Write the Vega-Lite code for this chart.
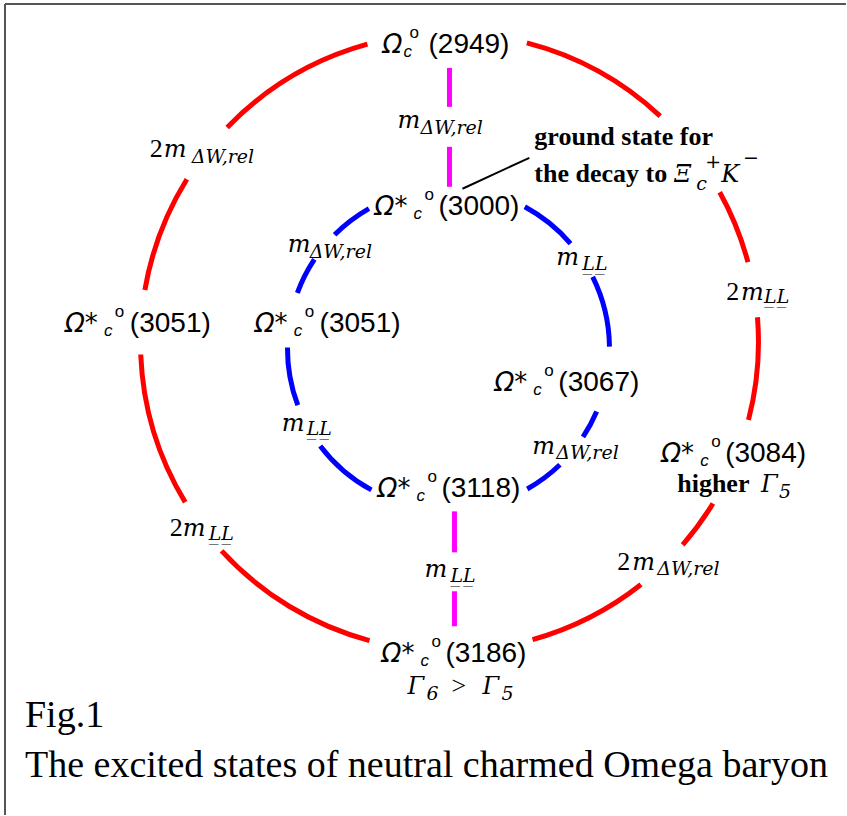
{
  "$schema": "https://vega.github.io/schema/vega-lite/v6.json",
  "width": 847,
  "height": 816,
  "autosize": {"type": "fit", "contains": "padding"},
  "padding": 0,
  "background": "white",
  "config": {"view": {"stroke": null}},
  "datasets": {
    "arcs": [
      {"ring": "outer", "x": 450, "y": 342.5, "r": 309, "a1": 14.5, "a2": 43},
      {"ring": "outer", "x": 450, "y": 342.5, "r": 309, "a1": 61, "a2": 75},
      {"ring": "outer", "x": 450, "y": 342.5, "r": 309, "a1": 85.4, "a2": 104.6},
      {"ring": "outer", "x": 450, "y": 342.5, "r": 309, "a1": 121.5, "a2": 131},
      {"ring": "outer", "x": 450, "y": 342.5, "r": 309, "a1": 141.7, "a2": 164.4},
      {"ring": "outer", "x": 450, "y": 342.5, "r": 309, "a1": 195, "a2": 227.5},
      {"ring": "outer", "x": 450, "y": 342.5, "r": 309, "a1": 238.8, "a2": 267.7},
      {"ring": "outer", "x": 450, "y": 342.5, "r": 309, "a1": 279.7, "a2": 301.8},
      {"ring": "outer", "x": 450, "y": 342.5, "r": 309, "a1": 314, "a2": 344.6},
      {"ring": "inner", "x": 449, "y": 349, "r": 161, "a1": 28.3, "a2": 49.3},
      {"ring": "inner", "x": 449, "y": 349, "r": 161, "a1": 63.6, "a2": 89.3},
      {"ring": "inner", "x": 449, "y": 349, "r": 161, "a1": 113, "a2": 123.3},
      {"ring": "inner", "x": 449, "y": 349, "r": 161, "a1": 136.2, "a2": 150.7},
      {"ring": "inner", "x": 449, "y": 349, "r": 161, "a1": 208.6, "a2": 232.8},
      {"ring": "inner", "x": 449, "y": 349, "r": 161, "a1": 249.4, "a2": 270.4},
      {"ring": "inner", "x": 449, "y": 349, "r": 161, "a1": 290.2, "a2": 303.6},
      {"ring": "inner", "x": 449, "y": 349, "r": 161, "a1": 315, "a2": 330.4}
    ],
    "links": [
      {"ring": "link", "x": 450, "y": 68, "y2": 107},
      {"ring": "link", "x": 450, "y": 147, "y2": 187},
      {"ring": "link", "x": 455, "y": 512, "y2": 553},
      {"ring": "link", "x": 455, "y": 592, "y2": 627}
    ],
    "leader": [{"x": 463, "y": 189, "x2": 530, "y2": 158}],
    "border": [
      {"x": 5, "y": 4, "x2": 847, "y2": 4},
      {"x": 5, "y": 4, "x2": 5, "y2": 816}
    ],
    "sym": [
      {"x": 383, "y": 53, "t": "Ω"},
      {"x": 375, "y": 215, "t": "Ω*"},
      {"x": 65, "y": 332, "t": "Ω*"},
      {"x": 255, "y": 332, "t": "Ω*"},
      {"x": 495, "y": 391, "t": "Ω*"},
      {"x": 662, "y": 463, "t": "Ω*"},
      {"x": 378, "y": 498, "t": "Ω*"},
      {"x": 382, "y": 663, "t": "Ω*"}
    ],
    "symsub": [
      {"x": 404, "y": 57, "t": "c"},
      {"x": 414, "y": 219, "t": "c"},
      {"x": 104, "y": 336, "t": "c"},
      {"x": 294, "y": 336, "t": "c"},
      {"x": 534, "y": 395, "t": "c"},
      {"x": 701, "y": 467, "t": "c"},
      {"x": 417, "y": 502, "t": "c"},
      {"x": 421, "y": 667, "t": "c"}
    ],
    "symsup": [
      {"x": 410, "y": 38, "t": "o"},
      {"x": 425, "y": 200, "t": "o"},
      {"x": 115, "y": 317, "t": "o"},
      {"x": 305, "y": 317, "t": "o"},
      {"x": 545, "y": 376, "t": "o"},
      {"x": 712, "y": 448, "t": "o"},
      {"x": 428, "y": 483, "t": "o"},
      {"x": 432, "y": 648, "t": "o"}
    ],
    "num": [
      {"x": 429, "y": 53, "t": "(2949)"},
      {"x": 439, "y": 215, "t": "(3000)"},
      {"x": 130, "y": 332, "t": "(3051)"},
      {"x": 320, "y": 332, "t": "(3051)"},
      {"x": 559, "y": 391, "t": "(3067)"},
      {"x": 726, "y": 463, "t": "(3084)"},
      {"x": 442, "y": 498, "t": "(3118)"},
      {"x": 446, "y": 663, "t": "(3186)"}
    ],
    "mvar": [
      {"x": 398, "y": 128, "t": "m"},
      {"x": 164, "y": 157, "t": "m"},
      {"x": 288, "y": 252, "t": "m"},
      {"x": 557, "y": 265, "t": "m"},
      {"x": 742, "y": 300, "t": "m"},
      {"x": 533, "y": 455, "t": "m"},
      {"x": 282, "y": 432, "t": "m"},
      {"x": 183, "y": 537, "t": "m"},
      {"x": 633, "y": 571, "t": "m"},
      {"x": 425, "y": 578, "t": "m"},
      {"x": 675, "y": 182, "t": "Ξ"},
      {"x": 722, "y": 182, "t": "K"},
      {"x": 762, "y": 493, "t": "Γ"},
      {"x": 408, "y": 695, "t": "Γ"},
      {"x": 483, "y": 695, "t": "Γ"}
    ],
    "msub": [
      {"x": 421, "y": 134, "t": "ΔW,rel"},
      {"x": 192, "y": 163, "t": "ΔW,rel"},
      {"x": 310, "y": 258, "t": "ΔW,rel"},
      {"x": 557, "y": 460, "t": "ΔW,rel"},
      {"x": 658, "y": 576, "t": "ΔW,rel"},
      {"x": 583, "y": 270, "t": "L̲L̲"},
      {"x": 765, "y": 303, "t": "L̲L̲"},
      {"x": 307, "y": 436, "t": "L̲L̲"},
      {"x": 209, "y": 541, "t": "L̲L̲"},
      {"x": 451, "y": 583, "t": "L̲L̲"},
      {"x": 697, "y": 190, "t": "c"},
      {"x": 780, "y": 499, "t": "5"},
      {"x": 427, "y": 701, "t": "6"},
      {"x": 502, "y": 701, "t": "5"}
    ],
    "msup": [
      {"x": 706, "y": 168, "t": "+"},
      {"x": 744, "y": 164, "t": "−"}
    ],
    "serif": [
      {"x": 150, "y": 157, "t": "2"},
      {"x": 727, "y": 300, "t": "2"},
      {"x": 170, "y": 537, "t": "2"},
      {"x": 618, "y": 571, "t": "2"},
      {"x": 452, "y": 695, "t": ">"}
    ],
    "bold": [
      {"x": 535, "y": 145, "t": "ground state for"},
      {"x": 535, "y": 182, "t": "the decay to"},
      {"x": 678, "y": 493, "t": "higher"}
    ],
    "caption": [
      {"x": 25, "y": 728, "t": "Fig.1"},
      {"x": 25, "y": 778, "t": "The excited states of neutral charmed Omega baryon"}
    ]
  },
  "encoding": {
    "x": {"field": "x", "type": "quantitative", "scale": {"domain": [0, 847], "nice": false, "zero": false}, "axis": null},
    "y": {"field": "y", "type": "quantitative", "scale": {"domain": [0, 816], "nice": false, "zero": false, "reverse": true}, "axis": null}
  },
  "layer": [
    {
      "data": {"name": "border"},
      "mark": {"type": "rule", "strokeWidth": 2, "color": "#555555"},
      "encoding": {"x2": {"field": "x2"}, "y2": {"field": "y2"}}
    },
    {
      "data": {"name": "arcs"},
      "mark": {"type": "arc", "filled": false, "strokeWidth": 5},
      "encoding": {
        "theta": {"field": "a1", "type": "quantitative", "stack": null, "scale": {"domain": [0, 360], "range": [0, 6.283185307179586]}},
        "theta2": {"field": "a2"},
        "radius": {"field": "r", "type": "quantitative", "scale": {"type": "linear", "domain": [0, 400], "range": [0, 400], "zero": true}},
        "radius2": {"field": "r"},
        "color": {"field": "ring", "type": "nominal", "scale": {"domain": ["outer", "inner", "link"], "range": ["#ff0000", "#0000ff", "#ff00ff"]}, "legend": null}
      }
    },
    {
      "data": {"name": "links"},
      "mark": {"type": "rule", "strokeWidth": 5},
      "encoding": {
        "y2": {"field": "y2"},
        "color": {"field": "ring", "type": "nominal", "scale": {"domain": ["outer", "inner", "link"], "range": ["#ff0000", "#0000ff", "#ff00ff"]}, "legend": null}
      }
    },
    {
      "data": {"name": "leader"},
      "mark": {"type": "rule", "strokeWidth": 2, "color": "black"},
      "encoding": {"x2": {"field": "x2"}, "y2": {"field": "y2"}}
    },
    {
      "data": {"name": "sym"},
      "mark": {"type": "text", "align": "left", "baseline": "alphabetic", "font": "DejaVu Sans", "fontSize": 26, "fontStyle": "italic", "color": "black"},
      "encoding": {"text": {"field": "t"}}
    },
    {
      "data": {"name": "symsub"},
      "mark": {"type": "text", "align": "left", "baseline": "alphabetic", "font": "Liberation Sans", "fontSize": 17, "fontStyle": "italic", "color": "black"},
      "encoding": {"text": {"field": "t"}}
    },
    {
      "data": {"name": "symsup"},
      "mark": {"type": "text", "align": "left", "baseline": "alphabetic", "font": "Liberation Sans", "fontSize": 17, "color": "black"},
      "encoding": {"text": {"field": "t"}}
    },
    {
      "data": {"name": "num"},
      "mark": {"type": "text", "align": "left", "baseline": "alphabetic", "font": "Liberation Sans", "fontSize": 28, "color": "black"},
      "encoding": {"text": {"field": "t"}}
    },
    {
      "data": {"name": "mvar"},
      "mark": {"type": "text", "align": "left", "baseline": "alphabetic", "font": "DejaVu Serif", "fontSize": 24, "fontStyle": "italic", "color": "black"},
      "encoding": {"text": {"field": "t"}}
    },
    {
      "data": {"name": "msub"},
      "mark": {"type": "text", "align": "left", "baseline": "alphabetic", "font": "DejaVu Serif", "fontSize": 19, "fontStyle": "italic", "color": "black"},
      "encoding": {"text": {"field": "t"}}
    },
    {
      "data": {"name": "msup"},
      "mark": {"type": "text", "align": "left", "baseline": "alphabetic", "font": "DejaVu Serif", "fontSize": 19, "color": "black"},
      "encoding": {"text": {"field": "t"}}
    },
    {
      "data": {"name": "serif"},
      "mark": {"type": "text", "align": "left", "baseline": "alphabetic", "font": "Liberation Serif", "fontSize": 26, "color": "black"},
      "encoding": {"text": {"field": "t"}}
    },
    {
      "data": {"name": "bold"},
      "mark": {"type": "text", "align": "left", "baseline": "alphabetic", "font": "Liberation Serif", "fontSize": 26, "fontWeight": "bold", "color": "black"},
      "encoding": {"text": {"field": "t"}}
    },
    {
      "data": {"name": "caption"},
      "mark": {"type": "text", "align": "left", "baseline": "alphabetic", "font": "Liberation Serif", "fontSize": 38, "color": "black"},
      "encoding": {"text": {"field": "t"}}
    }
  ]
}
